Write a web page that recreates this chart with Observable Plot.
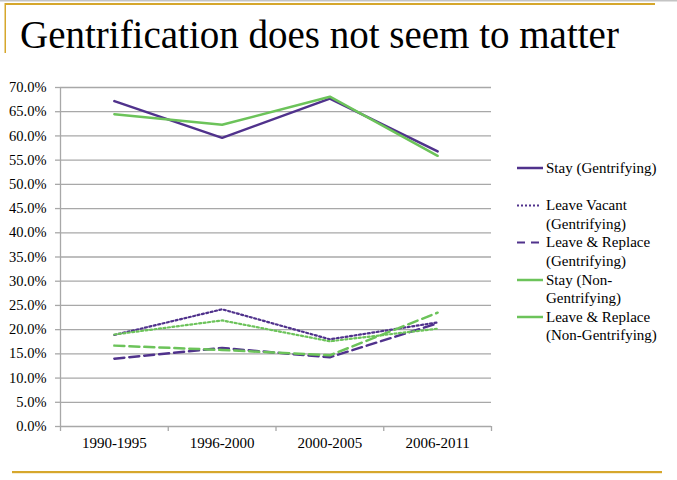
<!DOCTYPE html>
<html>
<head>
<meta charset="utf-8">
<script src="https://cdn.jsdelivr.net/npm/d3@7"></script>
<script src="https://cdn.jsdelivr.net/npm/@observablehq/plot@0.6"></script>
<style>
  html, body { margin: 0; padding: 0; background: #fff; }
  #wrap { position: relative; width: 677px; height: 480px; overflow: hidden; font-family: 'Liberation Serif', 'DejaVu Serif', serif; }
  #chart { position: absolute; left: 0; top: 0; }
  #overlay { position: absolute; left: 0; top: 0; pointer-events: none; font-family: 'Liberation Serif', serif; }
  #overlay text { font-family: 'Liberation Serif', serif; }
</style>
</head>
<body>
<div id="wrap">
  <div id="chart"></div>
  <svg id="overlay" width="677" height="480"></svg>
</div>
<script>
// ---- data ----
const periods = ["1990-1995", "1996-2000", "2000-2005", "2006-2011"];
const stayGent            = [0.672, 0.596, 0.677, 0.568];
const leaveVacantGent     = [0.189, 0.242, 0.180, 0.215];
const leaveReplaceGent    = [0.140, 0.162, 0.143, 0.213];
const stayNonGent         = [0.645, 0.623, 0.681, 0.559];
const leaveVacantNonGent  = [0.190, 0.219, 0.176, 0.202];
const leaveReplaceNonGent = [0.167, 0.158, 0.147, 0.235];
const yTicks = [0, 0.05, 0.10, 0.15, 0.20, 0.25, 0.30, 0.35, 0.40, 0.45, 0.50, 0.55, 0.60, 0.65, 0.70];

const purple = "#50328c";
const green = "#6cc35a";

const series = [
  {name: "Stay (Gentrifying)", values: stayGent, color: purple, dash: null, width: 2.5},
  {name: "Leave Vacant (Gentrifying)", values: leaveVacantGent, color: purple, dash: "2,2.5", width: 2.2},
  {name: "Leave & Replace (Gentrifying)", values: leaveReplaceGent, color: purple, dash: "10,5", width: 2.5},
  {name: "Stay (Non-Gentrifying)", values: stayNonGent, color: green, dash: null, width: 2.5},
  {name: "Leave Vacant (Non-Gentrifying)", values: leaveVacantNonGent, color: green, dash: "2,2.5", width: 2.2},
  {name: "Leave & Replace (Non-Gentrifying)", values: leaveReplaceNonGent, color: green, dash: "10,5", width: 2.5}
];

// legend as shown in the reference (5 entries)
const legendEntries = [
  {lines: ["Stay (Gentrifying)"], color: purple, dash: null},
  {lines: ["Leave Vacant", "(Gentrifying)"], color: purple, dash: "2,2"},
  {lines: ["Leave & Replace", "(Gentrifying)"], color: purple, dash: "8,6"},
  {lines: ["Stay (Non-", "Gentrifying)"], color: green, dash: null},
  {lines: ["Leave & Replace", "(Non-Gentrifying)"], color: green, dash: null}
];

const rows = series.flatMap(s => s.values.map((v, i) => ({series: s.name, i, v})));
const centers = periods.map((p, i) => i);
const boundaries = [-0.5, ...periods.map((p, i) => i + 0.5)];

const gridColor = "#a8a8a8";

const chart = Plot.plot({
  width: 677,
  height: 480,
  marginLeft: 60,
  marginRight: 186,
  marginTop: 87,
  marginBottom: 54,
  style: {fontFamily: "'Liberation Serif', serif", fontSize: "14.5px", color: "black", background: "transparent"},
  x: {domain: [-0.5, periods.length - 0.5], label: null},
  y: {domain: [0, 0.7], label: null},
  marks: [
    Plot.ruleY(yTicks, {stroke: gridColor, strokeWidth: 1.3}),
    Plot.ruleX([-0.5], {stroke: gridColor, strokeWidth: 1.3}),
    Plot.axisY({ticks: yTicks, tickFormat: d3.format(".1%"), tickSize: 5, tickPadding: 9, stroke: gridColor, strokeWidth: 1.3, fill: "black", fontSize: 14.5, label: null}),
    Plot.axisX({ticks: boundaries, tickFormat: () => "", tickSize: 5, stroke: gridColor, strokeWidth: 1.3, label: null}),
    Plot.axisX({ticks: centers, tickFormat: i => periods[i], tickSize: 0, tickPadding: 11, fill: "black", fontSize: 15, label: null}),
    ...series.map(s => Plot.line(rows.filter(r => r.series === s.name), {
      x: "i", y: "v", stroke: s.color, strokeWidth: s.width,
      strokeDasharray: s.dash || undefined, strokeLinejoin: "round"
    }))
  ]
});
document.getElementById("chart").appendChild(chart);

// ---- overlay: frame decorations, title, legend ----
const ns = "http://www.w3.org/2000/svg";
const ov = document.getElementById("overlay");
function el(tag, attrs, text) {
  const e = document.createElementNS(ns, tag);
  for (const k in attrs) e.setAttribute(k, attrs[k]);
  if (text != null) e.textContent = text;
  ov.appendChild(e);
  return e;
}
const gold = "#d6a72c";
el("rect", {x: 0, y: 0, width: 677, height: 1.5, fill: "#c4c4c4"});
el("rect", {x: 5, y: 3, width: 650, height: 2, fill: gold});
el("rect", {x: 4.5, y: 3, width: 1.5, height: 50, fill: gold});
el("rect", {x: 12, y: 471, width: 650, height: 2.2, fill: gold});

el("text", {x: 20, y: 48, "font-size": 39, fill: "#000"}, "Gentrification does not seem to matter");

const legendTop = [168, 205.5, 242.5, 280, 317];
const lineH = 18.5;
legendEntries.forEach((e, k) => {
  const y0 = legendTop[k];
  const ln = el("line", {x1: 517, x2: 543, y1: y0, y2: y0, stroke: e.color, "stroke-width": e.dash ? 2.2 : 2.5});
  if (e.dash) { ln.setAttribute("stroke-dasharray", e.dash); ln.setAttribute("x2", 541); }
  e.lines.forEach((t, j) => {
    el("text", {x: 546, y: y0 + j * lineH + 4.8, "font-size": 15, fill: "#000"}, t);
  });
});
</script>
</body>
</html>
